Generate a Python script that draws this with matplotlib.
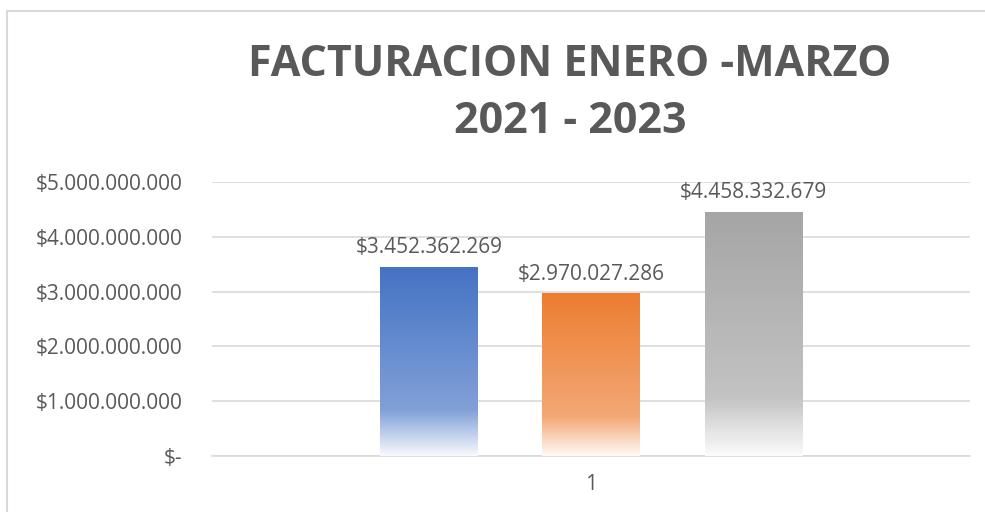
import matplotlib.pyplot as plt
import matplotlib.patches as mpatches
import numpy as np
from matplotlib.ticker import FuncFormatter

plt.rcParams["font.family"] = ["Open Sans", "DejaVu Sans"]

# data
anios = ["2021", "2022", "2023"]
facturacion = [3452362269, 2970027286, 4458332679]
colores = ["#4472C4", "#ED7D31", "#A5A5A5"]
categoria = "1"

gris = "#595959"


def pesos(v):
    if v == 0:
        return "$-"
    return "$" + f"{int(round(v)):,}".replace(",", ".")


def degradado(hexcol, n=256):
    base = np.array(plt.matplotlib.colors.to_rgb(hexcol))
    blanco = np.ones(3)
    # t = 0 arriba, t = 1 abajo
    t = np.linspace(0, 1, n)
    mezcla = np.interp(t, [0.0, 0.76, 1.0], [0.0, 0.33, 0.96])
    cols = base[None, :] * (1 - mezcla[:, None]) + blanco[None, :] * mezcla[:, None]
    return cols[::-1][:, None, :]  # fila 0 abajo


fig = plt.figure(figsize=(9.85, 5.12), dpi=100)
ax = fig.add_axes([212 / 985, 1 - 456 / 512, 758 / 985, 274 / 512])

ancho = 0.128
offsets = [-0.214, 0.0, 0.214]
barras = ax.bar(offsets, facturacion, width=ancho, color="none", edgecolor="none", zorder=3)

for b, col, v in zip(barras, colores, facturacion):
    x0 = b.get_x()
    img = ax.imshow(degradado(col), extent=[x0, x0 + ancho, 0, v], aspect="auto",
                    origin="lower", zorder=3, interpolation="bilinear")
    img.set_clip_path(b)
    ax.annotate(pesos(v), (x0 + ancho / 2, v), xytext=(0, 6), textcoords="offset points",
                ha="center", va="bottom", fontsize=15, color=gris)

ax.set_xlim(-0.5, 0.5)
ax.set_ylim(0, 5e9)
ax.set_yticks(np.arange(0, 5.01e9, 1e9))
ax.yaxis.set_major_formatter(FuncFormatter(lambda v, p: pesos(v)))
ax.set_xticks([0])
ax.set_xticklabels([categoria])
ax.tick_params(axis="both", length=0, labelsize=15, labelcolor=gris)
ax.tick_params(axis="y", pad=21)
ax.tick_params(axis="x", pad=13)
ax.grid(axis="y", color="#D9D9D9", linewidth=1.2, zorder=0)
for s in ["top", "right", "left"]:
    ax.spines[s].set_visible(False)
ax.spines["bottom"].set_color("#D9D9D9")
ax.spines["bottom"].set_linewidth(1.2)

fig.text(570 / 985, 1 - 93 / 512, "FACTURACION ENERO -MARZO\n2021 - 2023", ha="center",
         va="center", fontsize=31, fontweight="bold", color=gris, linespacing=1.42)

# marco del gráfico
fig.patches.append(mpatches.Rectangle((7 / 985, -0.1), 1.2, 1 - 11 / 512 + 0.1,
                                      transform=fig.transFigure, fill=False,
                                      edgecolor="#D9D9D9", linewidth=1.5))

fig.savefig("out.png", dpi=100)
